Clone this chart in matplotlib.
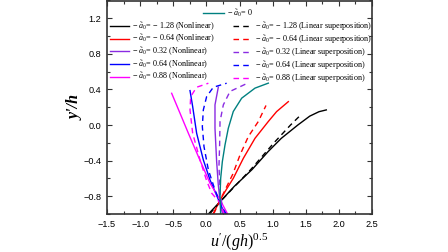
import matplotlib
matplotlib.use("Agg")
import matplotlib.pyplot as plt
from matplotlib.lines import Line2D
from matplotlib.ticker import MultipleLocator

plt.rcParams['mathtext.fontset'] = 'custom'
plt.rcParams['mathtext.rm'] = 'Liberation Serif'
plt.rcParams['mathtext.it'] = 'Liberation Serif:italic'
plt.rcParams['mathtext.bf'] = 'Liberation Serif:bold'

# ---- data (x = u'/(gh)^0.5, y = y'/h) ----
a0_values = ["\u2212 1.28", "\u2212 0.64", "0.32", "0.64", "0.88"]
colors = ["#000000", "#FF0000", "#8A2BE2", "#0000FF", "#FF00FF"]
teal = "#008080"

# nonlinear (solid)
nl_black_y = [-1.0, -0.86, -0.69, -0.50, -0.30, -0.15, 0.0, 0.10, 0.15, 0.17]
nl_black_x = [0.03, 0.21, 0.42, 0.69, 0.93, 1.13, 1.38, 1.56, 1.70, 1.81]
nl_red_y = [-1.0, -0.84, -0.749, -0.599, -0.374, -0.149, 0.04, 0.151, 0.263]
nl_red_x = [0.10, 0.21, 0.281, 0.406, 0.558, 0.734, 0.935, 1.06, 1.237]
nl_purple_y = [-1.0, -0.916, -0.674, -0.411, -0.036, 0.227, 0.425]
nl_purple_x = [0.246, 0.216, 0.18, 0.155, 0.13, 0.13, 0.18]
nl_blue_y = [-1.0, -0.87, -0.80, -0.617, -0.392, -0.092, 0.208, 0.387]
nl_blue_x = [0.28, 0.20, 0.16, 0.055, -0.046, -0.147, -0.207, -0.247]
nl_mag_y = [-1.0, -0.84, -0.654, -0.354, -0.092, 0.133, 0.357]
nl_mag_x = [0.32, 0.206, 0.055, -0.121, -0.272, -0.398, -0.524]

# linear superposition (dashed)
ls_black_y = [-1.0, -0.86, -0.50, -0.20, 0.0, 0.125]
ls_black_x = [0.05, 0.21, 0.67, 1.02, 1.27, 1.44]
ls_red_y = [-1.0, -0.84, -0.55, -0.336, -0.13, 0.04, 0.22]
ls_red_x = [0.11, 0.21, 0.40, 0.508, 0.633, 0.784, 0.90]
ls_purple_y = [-1.0, -0.766, -0.467, -0.224, 0.04, 0.227, 0.378, 0.47]
ls_purple_x = [0.256, 0.21, 0.19, 0.20, 0.206, 0.256, 0.357, 0.62]
ls_blue_y = [-1.0, -0.916, -0.729, -0.504, -0.242, -0.017, 0.17, 0.32, 0.425, 0.47]
ls_blue_x = [0.30, 0.23, 0.13, 0.03, -0.036, -0.061, -0.046, 0.004, 0.105, 0.306]
ls_mag_y = [-1.0, -0.87, -0.766, -0.617, -0.392, -0.092, 0.17, 0.32, 0.425, 0.47]
ls_mag_x = [0.27, 0.20, 0.08, 0.0, -0.096, -0.207, -0.247, -0.237, -0.147, 0.03]

# a0 = 0
zero_y = [-1.0, -0.787, -0.599, -0.411, -0.224, -0.036, 0.152, 0.302, 0.415, 0.471]
zero_x = [0.215, 0.206, 0.216, 0.241, 0.281, 0.331, 0.406, 0.533, 0.734, 0.935]

nl = [(nl_black_x, nl_black_y), (nl_red_x, nl_red_y), (nl_purple_x, nl_purple_y),
      (nl_blue_x, nl_blue_y), (nl_mag_x, nl_mag_y)]
ls = [(ls_black_x, ls_black_y), (ls_red_x, ls_red_y), (ls_purple_x, ls_purple_y),
      (ls_blue_x, ls_blue_y), (ls_mag_x, ls_mag_y)]

fig = plt.figure(figsize=(4.48, 2.52), dpi=100)
ax = fig.add_axes([107/448, 1-214/252, 265/448, 213.5/252])

lw = 1.0
dash = (4, 3)
for (x, y), c in zip(nl, colors):
    ax.plot(x, y, color=c, lw=lw)
for (x, y), c in zip(ls, colors):
    ax.plot(x, y, color=c, lw=lw, dashes=dash)
ax.plot(zero_x, zero_y, color=teal, lw=lw)

ax.set_xlim(-1.5, 2.5)
ax.set_ylim(-1.0, 1.4)
ax.xaxis.set_major_locator(MultipleLocator(0.5))
ax.xaxis.set_minor_locator(MultipleLocator(0.25))
ax.yaxis.set_minor_locator(MultipleLocator(0.2))
ax.set_yticks([-0.8, -0.4, 0.0, 0.4, 0.8, 1.2])
ax.tick_params(which='both', direction='in', top=True, right=True,
               color='#333333', width=0.8)
ax.tick_params(which='major', length=3.5)
ax.tick_params(which='minor', length=2)
ax.tick_params(axis='x', pad=4)
ax.tick_params(axis='y', pad=4)
for lab in ax.get_xticklabels() + ax.get_yticklabels():
    lab.set_fontfamily('Liberation Sans')
    lab.set_fontsize(6.6)
for sp in ax.spines.values():
    sp.set_linewidth(1.2)
    sp.set_color('#333333')

ax.set_xlabel(r"$u'/(gh)^{\mathrm{0.5}}$", fontsize=11.5, labelpad=2)
fig.text(76/448, 1-107/252, "y'/h",
         rotation=90, ha='center', va='center', fontsize=11.5,
         family='Liberation Serif', style='italic', weight='bold')

leg_font = {'family': 'Liberation Serif', 'size': 5.9}
nl_handles = [Line2D([], [], color=c, lw=lw) for c in colors]
ls_handles = [Line2D([], [], color=c, lw=lw, dashes=dash) for c in colors]
nl_labels = ["\u2212 $\\tilde{a}_0$= " + v + " (Nonlinear)" for v in a0_values]
ls_labels = ["\u2212 $\\tilde{a}_0$= " + v + " (Linear superposition)" for v in a0_values]

common = dict(frameon=False, loc='upper left', borderpad=0, borderaxespad=0,
              handletextpad=0.35, labelspacing=0.06,
              prop=leg_font, bbox_transform=fig.transFigure)
l1 = ax.legend(nl_handles, nl_labels, bbox_to_anchor=(110/448, 1-20.5/252),
               handlelength=2.3, **common)
ax.add_artist(l1)
l2 = ax.legend(ls_handles, ls_labels, bbox_to_anchor=(233/448, 1-20.5/252),
               handlelength=2.3, **common)
ax.add_artist(l2)
l3 = ax.legend([Line2D([], [], color=teal, lw=lw)], ["\u2212 $\\tilde{a}_0$= 0"],
               bbox_to_anchor=(203/448, 1-7.5/252), handlelength=2.6, **common)

fig.savefig("out.png", dpi=100, facecolor='white')
